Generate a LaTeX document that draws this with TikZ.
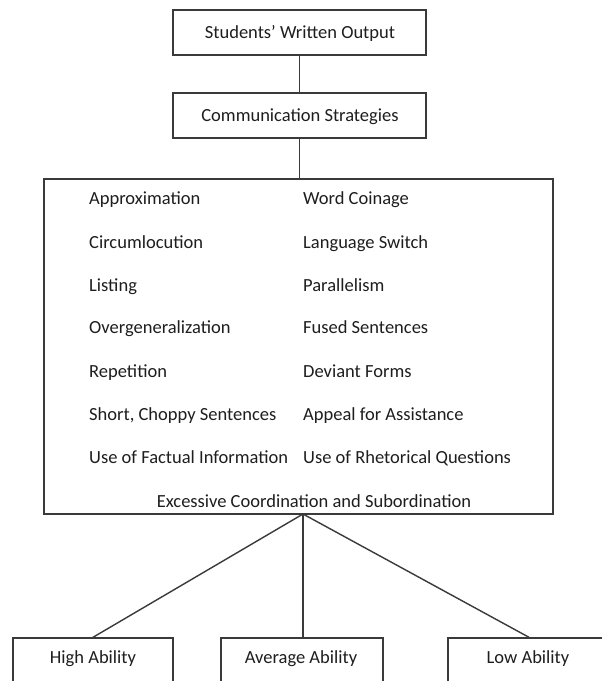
\documentclass[tikz,border=0pt]{standalone}
\usepackage{fontspec}
\setmainfont{Carlito}
\definecolor{linec}{HTML}{3A3A3A}
\definecolor{textc}{HTML}{1E1E1E}
\tikzset{
  box/.style={draw=linec, line width=1.4pt, rectangle, inner sep=0pt, text=textc},
  item/.style={anchor=base west, inner sep=0pt, text=textc},
  label/.style={anchor=base, inner sep=0pt, text=textc},
  conn/.style={draw=linec, line width=1.4pt},
}
\begin{document}
\begin{tikzpicture}[x=1pt,y=-1pt,font=\fontsize{18.5}{22}\selectfont]
\useasboundingbox (0,0) rectangle (602,681);
\fill[white] (0,0) rectangle (602,681);
% top boxes
\node[box, minimum width=253pt, minimum height=45pt] (swo) at (299.5,32.5) {};
\node[box, minimum width=253pt, minimum height=45pt] (cs) at (299.5,115.5) {};
\node[label] (swot) at (300,38) {Students’ Written Output};
\node[label] (cst) at (300,121) {Communication Strategies};
% big box
\node[box, minimum width=509pt, minimum height=335pt] (big) at (298.5,346.5) {};
% left column
\node[item] (l1) at (89,204) {Approximation};
\node[item] (l2) at (89,248) {Circumlocution};
\node[item] (l3) at (89,291) {Listing};
\node[item] (l4) at (89,333) {Overgeneralization};
\node[item] (l5) at (89,377) {Repetition};
\node[item] (l6) at (89,420) {Short, Choppy Sentences};
\node[item] (l7) at (89,463) {Use of Factual Information};
% right column
\node[item] (r1) at (303,204) {Word Coinage};
\node[item] (r2) at (303,248) {Language Switch};
\node[item] (r3) at (303,291) {Parallelism};
\node[item] (r4) at (303,333) {Fused Sentences};
\node[item] (r5) at (303,377) {Deviant Forms};
\node[item] (r6) at (303,420) {Appeal for Assistance};
\node[item] (r7) at (303,463) {Use of Rhetorical Questions};
\node[label] (exc) at (314,507) {Excessive Coordination and Subordination};
% bottom boxes (cut off by the page)
\node[box, minimum width=160pt, minimum height=60pt] (high) at (93,668) {};
\node[box, minimum width=162pt, minimum height=60pt] (avg) at (302,668) {};
\node[box, minimum width=162pt, minimum height=60pt] (low) at (529,668) {};
\node[label] (hight) at (93,663) {High Ability};
\node[label] (avgt) at (301,663) {Average Ability};
\node[label] (lowt) at (528,663) {Low Ability};
% connectors
\coordinate (j) at (303,514);
\draw[conn] (swo.south) -- (cs.north);
\draw[conn] (cs.south) -- (cs.south |- big.north);
\draw[conn] (j) -- (high.north);
\draw[conn] (j) -- (j |- avg.north);
\draw[conn] (j) -- (low.north);
\end{tikzpicture}
\end{document}
